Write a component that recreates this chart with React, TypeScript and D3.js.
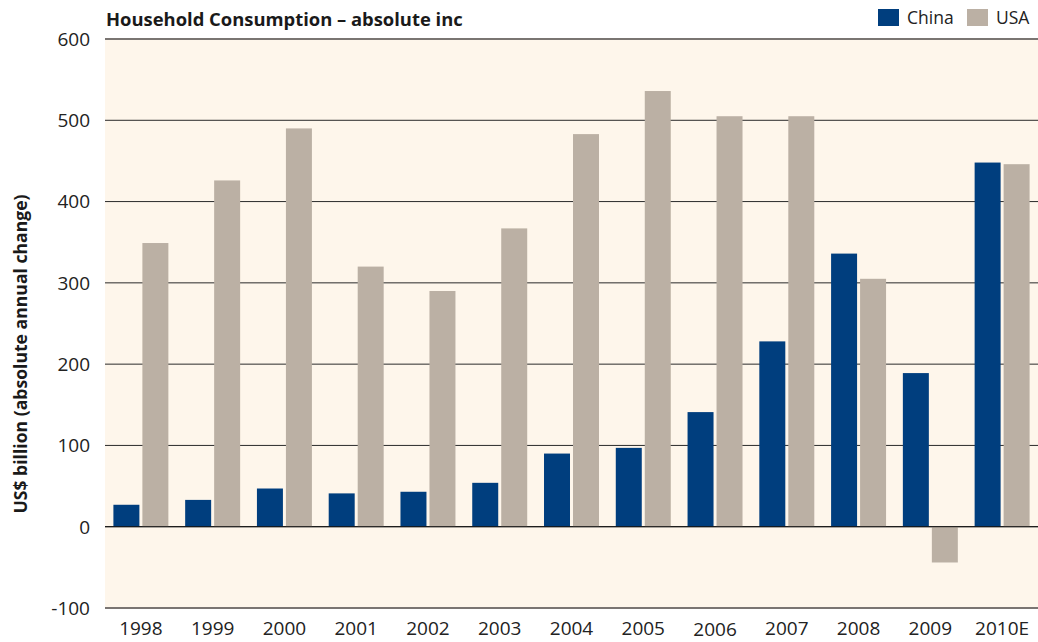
import { useEffect, useRef } from 'react';
import * as d3 from 'd3';

// Household consumption, absolute annual change (US$ bn)
const years = ['1998', '1999', '2000', '2001', '2002', '2003', '2004', '2005', '2006', '2007', '2008', '2009', '2010E'];
const china = [27, 33, 47, 41, 43, 54, 90, 97, 141, 228, 336, 189, 448];
const usa = [349, 426, 490, 320, 290, 367, 483, 536, 505, 505, 305, -44, 446];
const yTicks = [-100, 0, 100, 200, 300, 400, 500, 600];

const CHINA_COLOR = '#003E7E';
const USA_COLOR = '#BBB0A4';
const FONT = "'Open Sans', 'Noto Sans', sans-serif";

export default function App() {
  const svgRef = useRef<SVGSVGElement>(null);

  useEffect(() => {
    if (!svgRef.current) return;
    const W = 1038;
    const H = 642;
    const margin = { top: 39, right: 0, bottom: 34, left: 105 };
    const width = W - margin.left - margin.right;
    const height = H - margin.top - margin.bottom;

    const root = d3.select(svgRef.current);
    root.selectAll('*').remove();
    root.attr('width', W).attr('height', H);

    const svg = root.append('g').attr('transform', `translate(${margin.left},${margin.top})`);

    const x = d3.scaleBand().domain(years).range([0, width]).paddingInner(0.234).paddingOuter(0.117);
    const y = d3.scaleLinear().domain([-100, 600]).range([height, 0]);
    const barW = (x.bandwidth() - 3) / 2;

    // background
    svg.append('rect')
      .attr('x', 0).attr('y', 0)
      .attr('width', width).attr('height', height)
      .attr('fill', '#FEF6EB');

    // grid lines
    svg.append('g')
      .selectAll('line')
      .data(yTicks)
      .join('line')
      .attr('x1', 0)
      .attr('x2', width)
      .attr('y1', d => y(d))
      .attr('y2', d => y(d))
      .attr('stroke', d => (d === 600 || d === -100 ? '#7A7572' : '#2a2a2a'))
      .attr('stroke-width', d => (d === 600 || d === -100 ? 2 : 1));

    // y labels
    svg.append('g')
      .selectAll('text')
      .data(yTicks)
      .join('text')
      .attr('x', -15)
      .attr('y', d => y(d))
      .attr('dy', '0.36em')
      .attr('text-anchor', 'end')
      .attr('font-family', FONT)
      .attr('font-size', 19)
      .attr('fill', '#222')
      .text(d => d);

    // bars
    const groups = svg.append('g')
      .selectAll('g')
      .data(years)
      .join('g')
      .attr('transform', d => `translate(${x(d)},0)`);

    groups.append('rect')
      .attr('x', 0)
      .attr('width', barW)
      .attr('y', (d, i) => y(Math.max(0, china[i])))
      .attr('height', (d, i) => Math.abs(y(china[i]) - y(0)))
      .attr('fill', CHINA_COLOR);

    groups.append('rect')
      .attr('x', barW + 3)
      .attr('width', barW)
      .attr('y', (d, i) => y(Math.max(0, usa[i])))
      .attr('height', (d, i) => Math.abs(y(usa[i]) - y(0)))
      .attr('fill', USA_COLOR);

    // zero line on top of bars
    svg.append('line')
      .attr('x1', 0).attr('x2', width)
      .attr('y1', y(0)).attr('y2', y(0))
      .attr('stroke', '#111')
      .attr('stroke-width', 1);

    // x labels
    svg.append('g')
      .selectAll('text')
      .data(years)
      .join('text')
      .attr('x', d => (x(d) as number) + x.bandwidth() / 2)
      .attr('y', d => height + (d === '2006' ? 28 : 27))
      .attr('text-anchor', 'middle')
      .attr('font-family', FONT)
      .attr('font-size', 19)
      .attr('fill', '#222')
      .text(d => d);

    // title
    root.append('text')
      .attr('x', 106)
      .attr('y', 26)
      .attr('font-family', FONT)
      .attr('font-size', 18.4)
      .attr('font-weight', 700)
      .attr('fill', '#1a1a1a')
      .text('Household Consumption – absolute inc');

    // y axis title
    root.append('text')
      .attr('transform', 'translate(27,354) rotate(-90)')
      .attr('text-anchor', 'middle')
      .attr('font-family', FONT)
      .attr('font-size', 17.6)
      .attr('font-weight', 700)
      .attr('fill', '#1a1a1a')
      .text('US$ billion (absolute annual change)');

    // legend
    const legend = [
      { label: 'China', color: CHINA_COLOR, x: 878 },
      { label: 'USA', color: USA_COLOR, x: 967 },
    ];
    const lg = root.append('g');
    lg.selectAll('rect')
      .data(legend)
      .join('rect')
      .attr('x', d => d.x).attr('y', 9)
      .attr('width', 21).attr('height', 17)
      .attr('fill', d => d.color);
    lg.selectAll('text')
      .data(legend)
      .join('text')
      .attr('x', d => d.x + 29)
      .attr('y', 24)
      .attr('font-family', FONT)
      .attr('font-size', 17.5)
      .attr('fill', '#222')
      .text(d => d.label);
  }, []);

  return (
    <div style={{ position: 'fixed', left: 0, top: 0, width: 1038, height: 642, overflow: 'hidden', background: '#fff' }}>
      <svg ref={svgRef} style={{ display: 'block' }} />
    </div>
  );
}
